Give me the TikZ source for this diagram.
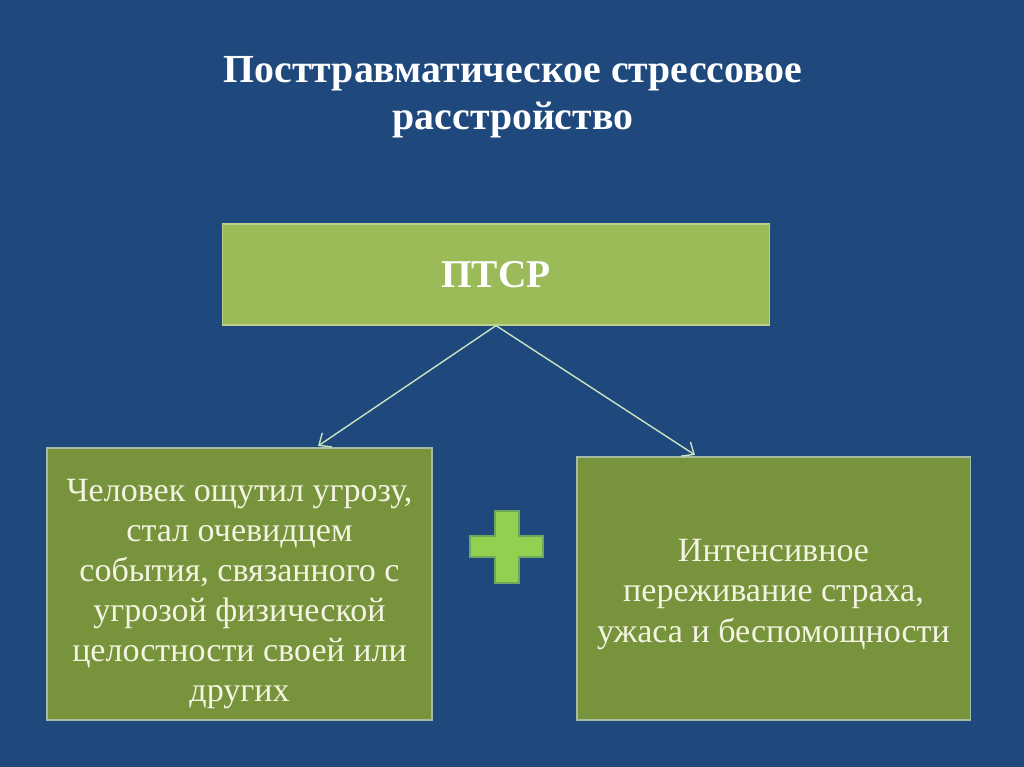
\documentclass[tikz,border=0pt]{standalone}
\usepackage{fontspec}
\setmainfont{Liberation Serif}
\usepackage{tikz}
\usetikzlibrary{arrows.meta,positioning}
\definecolor{slateblue}{HTML}{1F497D}
\definecolor{leafgreen}{HTML}{9BBB59}
\definecolor{olivegreen}{HTML}{77933C}
\definecolor{limegreen}{HTML}{92D050}
\definecolor{paleline}{HTML}{C9E3C0}
\definecolor{creamtext}{HTML}{F4F4E2}
\tikzset{
  headbox/.style={
    rectangle, draw=leafgreen!70!white, fill=leafgreen, line width=0.8pt,
    minimum width=13.65cm, minimum height=2.525cm,
    font=\fontsize{28}{32}\selectfont\bfseries, text=white,
    inner sep=0pt
  },
  factbox/.style={
    rectangle, draw=leafgreen!60!slateblue!60!white, fill=olivegreen,
    line width=0.8pt, minimum width=#1, inner sep=0pt
  },
  facttext/.style={
    font=\fontsize{24.2}{28.5}\selectfont, text=creamtext,
    align=center, inner sep=0pt
  },
  linkarrow/.style={
    -{Straight Barb[length=7pt,width=12pt]}, line width=1pt, color=paleline
  },
  crossmark/.style={
    fill=limegreen, draw=limegreen!70!slateblue, line width=0.8pt
  },
}
\begin{document}
\begin{tikzpicture}[x=0.025cm,y=-0.025cm]

\fill[slateblue] (0,0) rectangle (1024,767);

\node[font=\fontsize{28.3}{33.5}\selectfont\bfseries, text=white, align=center]
  (title) at (513,97) {Посттравматическое стрессовое\\расстройство};

\node[headbox] (ptsr) at (496,274.5) {ПТСР};

\node[factbox=9.625cm, minimum height=6.8cm] (threat) at (239.5,584) {};
\node[facttext] (threattext) at ([yshift=-0.25cm]threat.center)
  {Человек ощутил угрозу,\\стал очевидцем\\события, связанного с\\угрозой физической\\целостности своей или\\других};

\node[factbox=9.825cm, minimum height=6.575cm] (fear) at (773.5,588.5) {};
\node[facttext] (feartext) at ([yshift=-0.15cm]fear.center)
  {Интенсивное\\переживание страха,\\ужаса и беспомощности};

% plus sign between the two conditions
\filldraw[crossmark] (495,511) -- (519,511) -- (519,536) -- (543,536)
  -- (543,557) -- (519,557) -- (519,583) -- (495,583) -- (495,557)
  -- (470,557) -- (470,536) -- (495,536) -- cycle;

\coordinate (split) at (ptsr.south);
\draw[linkarrow] (split) -- (318,446);
\draw[linkarrow] (split) -- (695,455);

\end{tikzpicture}
\end{document}
